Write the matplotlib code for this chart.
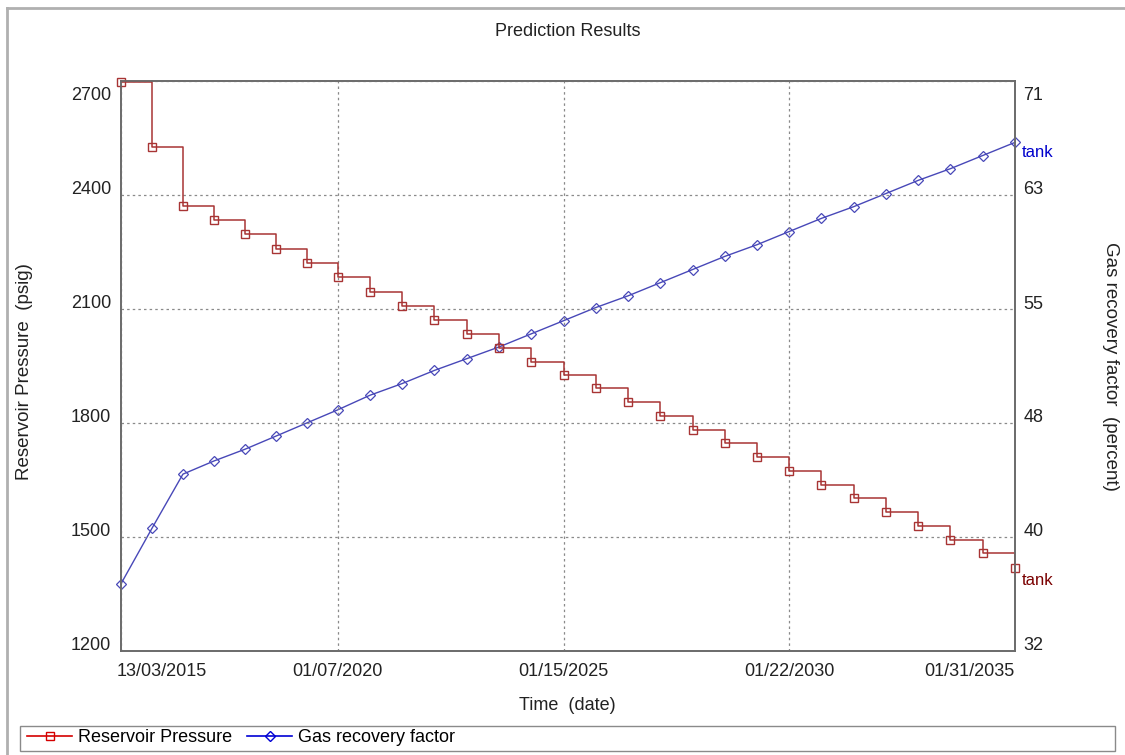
import numpy as np
import pandas as pd
import matplotlib
matplotlib.use("Agg")
import matplotlib.pyplot as plt
import matplotlib.transforms as mtransforms
from matplotlib.lines import Line2D
from matplotlib.patches import Rectangle

plt.rcParams["font.family"] = ["Liberation Sans", "DejaVu Sans"]

# time steps of the prediction run
dates = [
    "2015-03-13", "2015-11-20", "2016-07-28", "2017-04-06", "2017-12-13",
    "2018-08-22", "2019-04-30", "2020-01-07", "2020-09-25", "2021-06-14",
    "2022-03-03", "2022-11-20", "2023-08-09", "2024-04-27", "2025-01-15",
    "2025-10-04", "2026-06-23", "2027-03-12", "2027-11-29", "2028-08-17",
    "2029-05-06", "2030-01-22", "2030-10-11", "2031-06-30", "2032-03-18",
    "2032-12-05", "2033-08-24", "2034-05-13", "2035-01-31",
]

# reservoir pressure, psig
pressure = [
    2698, 2526, 2371, 2334, 2297, 2259, 2222, 2184, 2144, 2108,
    2071, 2034, 1998, 1961, 1927, 1891, 1855, 1819, 1782, 1747,
    1711, 1675, 1638, 1602, 1565, 1530, 1492, 1457, 1418,
]

# gas recovery factor, percent
recovery = [
    36.6, 40.4, 44.1, 45.0, 45.8, 46.7, 47.6, 48.5, 49.5, 50.3,
    51.2, 52.0, 52.8, 53.7, 54.6, 55.5, 56.3, 57.2, 58.1, 59.0,
    59.8, 60.7, 61.6, 62.4, 63.3, 64.2, 65.0, 65.9, 66.8,
]

p_ticks = [1200, 1500, 1800, 2100, 2400, 2700]
rf_lim = (32, 71)
rf_tick_labels = ["32", "40", "48", "55", "63", "71"]
x_tick_idx = [0, 7, 14, 21, 28]
x_tick_labels = ["13/03/2015", "01/07/2020", "01/15/2025", "01/22/2030", "01/31/2035"]

W, H = 1125, 755
fig = plt.figure(figsize=(W / 100, H / 100), dpi=100)
ax = fig.add_axes([121 / W, 1 - 651 / H, (1015 - 121) / W, (651 - 81) / H])
ax2 = ax.twinx()

t = pd.to_datetime(dates)
red = "#a83434"
blue = "#4848b8"

ax2.plot(t, recovery, color=blue, lw=1.0, marker="D", ms=5, mfc="none",
         mec=blue, mew=0.9, clip_on=False)
ax.plot(t, pressure, color=red, lw=1.1, drawstyle="steps-post")
ax.plot(t, pressure, ls="none", marker="s", ms=5.5, mfc="none", mec=red, mew=1.0,
        clip_on=False)

ax.set_zorder(ax2.get_zorder() + 1)
ax.patch.set_visible(False)

ax.set_xlim(t[0], t[-1])
ax.set_ylim(p_ticks[0], p_ticks[-1])
ax2.set_ylim(*rf_lim)

ax.set_yticks(p_ticks)
ax.set_yticklabels([str(v) for v in p_ticks])
rf_ticks = [rf_lim[0] + (v - p_ticks[0]) * (rf_lim[1] - rf_lim[0]) / (p_ticks[-1] - p_ticks[0])
            for v in p_ticks]
ax2.set_yticks(rf_ticks)
ax2.set_yticklabels(rf_tick_labels)

ax.set_xticks([t[i] for i in x_tick_idx])
ax.set_xticklabels(x_tick_labels)

ax.grid(True, ls=(0, (2, 2.5)), color="#8a8a8a", lw=0.9)
ax.tick_params(length=0, labelsize=13, colors="#222222")
ax.tick_params(axis="y", pad=7)
ax.tick_params(axis="x", pad=9)
ax2.tick_params(length=0, labelsize=13, colors="#222222", pad=6)

for a in (ax, ax2):
    for s in a.spines.values():
        s.set_color("#6a6a6a")
        s.set_linewidth(1.2)

# nudge the tick labels the way the original renders them
up = mtransforms.ScaledTranslation(0, 7 / 100, fig.dpi_scale_trans)
down = mtransforms.ScaledTranslation(0, -12 / 100, fig.dpi_scale_trans)
for labels in (ax.get_yticklabels(), ax2.get_yticklabels()):
    for i, lab in enumerate(labels):
        lab.set_transform(lab.get_transform() + (down if i == len(labels) - 1 else up))
xl = ax.get_xticklabels()
xl[0].set_ha("left")
xl[0].set_transform(xl[0].get_transform() + mtransforms.ScaledTranslation(-4 / 100, 0, fig.dpi_scale_trans))
xl[-1].set_ha("right")

ax.annotate("tank", xy=(t[-1], pressure[-1]), xytext=(5, -9), textcoords="offset points",
            color="#7a0000", fontsize=12, va="center", ha="left", annotation_clip=False)
ax2.annotate("tank", xy=(t[-1], recovery[-1]), xytext=(5, -7), textcoords="offset points",
             color="#0000cc", fontsize=12, va="center", ha="left", annotation_clip=False)

fig.text(568 / W, 1 - 32 / H, "Prediction Results", ha="center", va="center",
         fontsize=13, color="#222222")
fig.text(25 / W, 1 - 372 / H, "Reservoir Pressure  (psig)", rotation=90,
         ha="center", va="center", fontsize=13.5, color="#222222")
fig.text(1110 / W, 1 - 366 / H, "Gas recovery factor  (percent)", rotation=-90,
         ha="center", va="center", fontsize=13.5, color="#222222")
fig.text(567 / W, 1 - 705 / H, "Time  (date)", ha="center", va="center",
         fontsize=13, color="#222222")

# outer frame and legend box
fig.add_artist(Line2D([7 / W, 7 / W], [0, 1 - 8 / H], transform=fig.transFigure,
                      color="#b0b0b0", lw=2))
fig.add_artist(Line2D([7 / W, 1], [1 - 8 / H, 1 - 8 / H], transform=fig.transFigure,
                      color="#b0b0b0", lw=2))
fig.add_artist(Rectangle((20 / W, 1 - 751 / H), (1115 - 20) / W, 25 / H,
                         transform=fig.transFigure, fill=False, ec="#8a8a8a", lw=1))

handles = [
    Line2D([], [], color="#d40000", lw=1.2, marker="s", ms=6, mfc="none", mec="#d40000"),
    Line2D([], [], color="#0000d4", lw=1.2, marker="D", ms=5, mfc="none", mec="#0000d4"),
]
fig.legend(handles, ["Reservoir Pressure", "Gas recovery factor"], loc="center left",
           bbox_to_anchor=(27 / W, 1 - 738 / H), ncol=2, frameon=False, fontsize=13,
           handlelength=2.5, handletextpad=0.35, columnspacing=0.8, borderpad=0,
           borderaxespad=0)

fig.savefig("out.png", dpi=100)
